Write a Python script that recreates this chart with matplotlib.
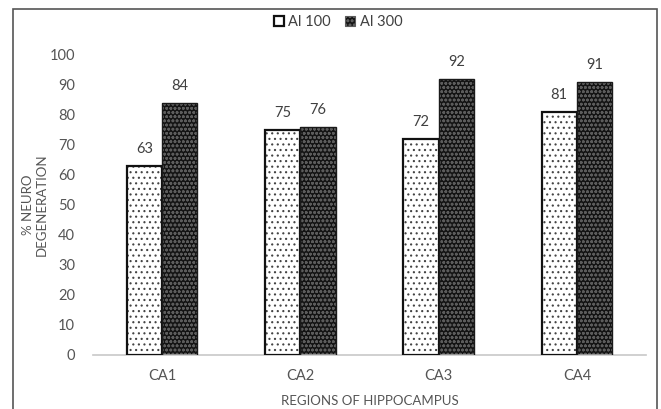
import matplotlib
matplotlib.use("Agg")
import matplotlib.pyplot as plt
import numpy as np
from matplotlib.patches import Rectangle

plt.rcParams['font.family'] = ['Lato', 'DejaVu Sans']
plt.rcParams['hatch.linewidth'] = 0.8

regions = ["CA1", "CA2", "CA3", "CA4"]
series_names = ["Al 100", "Al 300"]
al100 = [63, 75, 72, 81]
al300 = [84, 76, 92, 91]
y_ticks = [0, 10, 20, 30, 40, 50, 60, 70, 80, 90, 100]

fig = plt.figure(figsize=(6.61, 4.09), dpi=100)
ax = fig.add_axes([93/661, 1 - 355/409, 553/661, 300/409])

x = np.arange(len(regions))
w = 0.255
txt = "#404040"
dark_face = "#141414"
dark_hatch = "#5c5c5c"

# light series: white with black dots, black outline
ax.bar(x - w/2, al100, width=w, facecolor="white", edgecolor="#444444",
       hatch="...", linewidth=0, zorder=2)
ax.bar(x - w/2, al100, width=w, facecolor="none", edgecolor="#111111",
       linewidth=1.6, zorder=3)

# dark series: dense dark fill with grey dot texture
ax.bar(x + w/2, al300, width=w, facecolor=dark_face, edgecolor=dark_hatch,
       hatch="oooo", linewidth=0, zorder=2)
ax.bar(x + w/2, al300, width=w, facecolor="none", edgecolor="#1a1a1a",
       linewidth=1.0, zorder=3)

for xi, v in zip(x - w/2, al100):
    ax.text(xi, v + 3.3, str(v), ha="center", va="bottom", fontsize=10.5, color=txt)
for xi, v in zip(x + w/2, al300):
    ax.text(xi, v + 3.3, str(v), ha="center", va="bottom", fontsize=10.5, color=txt)

ax.set_xlim(-0.5, len(regions) - 0.5)
ax.set_ylim(0, 100)
ax.set_yticks(y_ticks)
ax.set_yticklabels([str(t) for t in y_ticks], fontsize=10.5, color="#555555")
ax.set_xticks(x)
ax.set_xticklabels(regions, fontsize=10.5, color="#555555")
ax.tick_params(axis="both", length=0)
ax.tick_params(axis="y", pad=13)
ax.tick_params(axis="x", pad=10)

for s in ["top", "right", "left"]:
    ax.spines[s].set_visible(False)
ax.spines["bottom"].set_color("#c8c8c8")
ax.spines["bottom"].set_linewidth(1.2)

ax.set_xlabel("REGIONS OF HIPPOCAMPUS", fontsize=9.5, color="#555555", labelpad=9)
fig.text(35/661, 1 - 205/409, "% NEURO\nDEGENERATION", rotation=90, ha="center",
         va="center", fontsize=9.5, color="#555555", linespacing=1.1)

# legend
handles = [Rectangle((0, 0), 1, 1, facecolor="white", edgecolor="#111111", linewidth=1.6),
           Rectangle((0, 0), 1, 1, facecolor=dark_face, edgecolor=dark_hatch, hatch="oooo", linewidth=0.8)]
fig.legend(handles, series_names, loc="center", bbox_to_anchor=(338/661, 1 - 22/409),
           ncol=2, frameon=False, fontsize=10.5, handlelength=0.7, handleheight=0.7,
           handletextpad=0.3, columnspacing=1.0, labelcolor="#404040")

# outer frame
fig.patches.append(Rectangle((13/661, -0.01), (657 - 13)/661, 1 - 9/409 + 0.01,
                             transform=fig.transFigure, fill=False,
                             edgecolor="#555555", linewidth=1.2))

fig.savefig("out.png", dpi=100)
